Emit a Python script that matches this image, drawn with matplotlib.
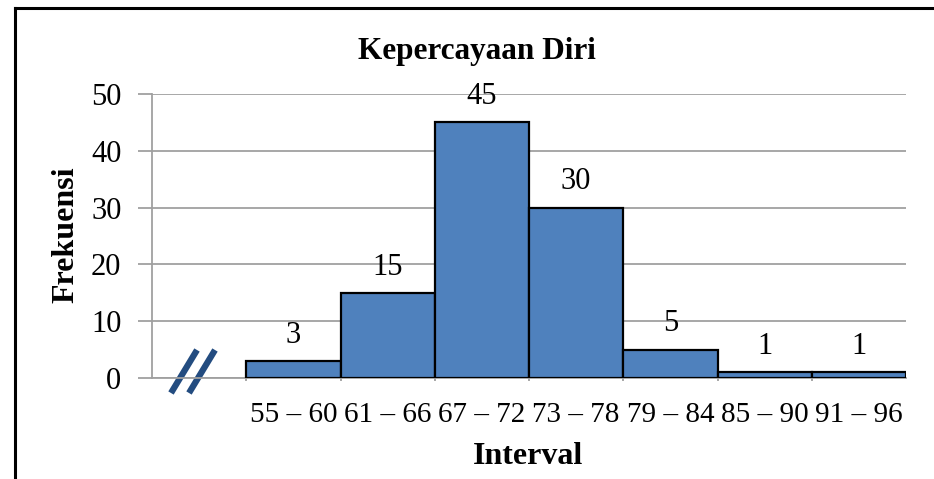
import matplotlib
matplotlib.use("Agg")
import matplotlib.pyplot as plt
import numpy as np

# data
intervals = ["55 – 60", "61 – 66", "67 – 72", "73 – 78", "79 – 84", "85 – 90", "91 – 96"]
frekuensi = [3, 15, 45, 30, 5, 1, 1]
y_ticks = [0, 10, 20, 30, 40, 50]

params = {"font.family": "Liberation Serif", "font.size": 22}
matplotlib.rcParams.update(params)

bar_color = "#4F81BD"
grid_color = "#A0A0A0"

fig = plt.figure(figsize=(9.34, 4.79), dpi=100)
ax = fig.add_axes([152 / 934, 1 - 378 / 479, (906 - 152) / 934, (378 - 94) / 479])

# first slot stays empty (axis break), bars fill slots 1..7
x = np.arange(1, len(intervals) + 1)
bars = ax.bar(x, frekuensi, width=1.0, color=bar_color, edgecolor="black", linewidth=1.6, zorder=3)

for xi, v in zip(x, frekuensi):
    ax.annotate(str(v), xy=(xi, v), xytext=(0, 8), textcoords="offset points",
                ha="center", va="bottom", fontsize=22)

ax.set_xlim(-0.5, len(intervals) + 0.5)
ax.set_ylim(0, 50)
ax.set_yticks(y_ticks)
ax.yaxis.grid(True, color=grid_color, linewidth=1.3, zorder=0)
ax.set_axisbelow(True)

ax.set_xticks(x)
ax.set_xticklabels(intervals, fontsize=21)
ax.set_xticks(np.arange(0.5, len(intervals) + 0.5, 1.0), minor=True)
ax.tick_params(axis="x", which="major", length=0, pad=17)
ax.tick_params(axis="x", which="minor", length=2.5, width=1.3, color=grid_color, direction="out")
ax.tick_params(axis="y", length=10, width=1.3, color=grid_color, pad=12, labelsize=22)

for side in ["top", "right"]:
    ax.spines[side].set_visible(False)
for side in ["left", "bottom"]:
    ax.spines[side].set_color(grid_color)
    ax.spines[side].set_linewidth(1.3)

# axis break marks
brk = "#234C80"
ax.plot([(171 - 152) / 754, (197 - 152) / 754], [-15 / 284, 28 / 284], transform=ax.transAxes,
        color=brk, linewidth=4.5, clip_on=False, solid_capstyle="butt")
ax.plot([(189 - 152) / 754, (215 - 152) / 754], [-15 / 284, 28 / 284], transform=ax.transAxes,
        color=brk, linewidth=4.5, clip_on=False, solid_capstyle="butt")

fig.text(477 / 934, 1 - 51 / 479, "Kepercayaan Diri", ha="center", va="center",
         fontsize=22.5, fontweight="bold")
fig.text(528 / 934, 1 - 457 / 479, "Interval", ha="center", va="center",
         fontsize=23, fontweight="bold")
fig.text(66 / 934, 1 - 235 / 479, "Frekuensi", ha="center", va="center",
         fontsize=23, fontweight="bold", rotation=90)

# frame around the chart (top and left edges)
fig.add_artist(plt.Line2D([15 / 934, 1.0], [1 - 7.5 / 479, 1 - 7.5 / 479], color="black",
                          linewidth=2.2, transform=fig.transFigure))
fig.add_artist(plt.Line2D([15 / 934, 15 / 934], [0.0, 1 - 7.5 / 479], color="black",
                          linewidth=2.2, transform=fig.transFigure))

fig.savefig("out.png", dpi=100)
